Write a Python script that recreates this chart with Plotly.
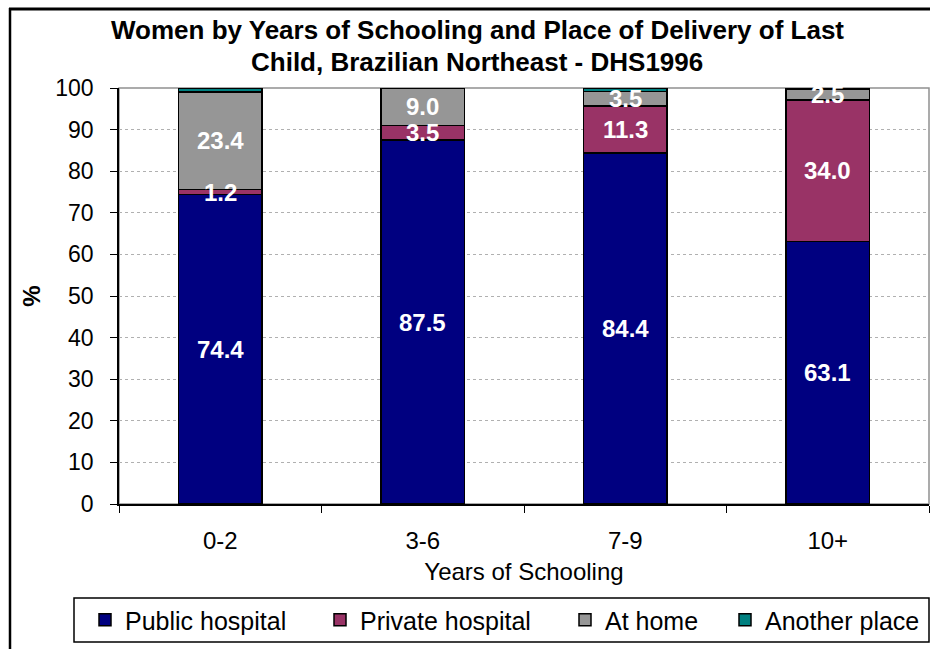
import plotly.graph_objects as go

categories = ["0-2", "3-6", "7-9", "10+"]
public_hospital = [74.4, 87.5, 84.4, 63.1]
private_hospital = [1.2, 3.5, 11.3, 34.0]
at_home = [23.4, 9.0, 3.5, 2.5]
another_place = [1.0, 0.0, 0.8, 0.4]

series = [
    ("Public hospital", public_hospital, "#000080", True),
    ("Private hospital", private_hospital, "#993366", True),
    ("At home", at_home, "#969696", True),
    ("Another place", another_place, "#008080", False),
]

FONT = "Liberation Sans, Arial, sans-serif"
W, H = 930, 649
L, R, T, B = 119, 1, 88, 145
pw, ph = W - L - R, H - T - B

def px_x(p):
    return (p - L) / pw

def px_y(p):
    return (H - B - p) / ph

legend_centers = [105, 340, 585, 745]
legend_names = ["legend", "legend2", "legend3", "legend4"]

fig = go.Figure()
base = [0.0] * len(categories)
annotations = []
for k, (name, vals, color, labelled) in enumerate(series):
    fig.add_trace(go.Bar(
        name=name, x=categories, y=vals, marker_color=color,
        marker_line_color="black", marker_line_width=1.5,
        legend=legend_names[k],
    ))
    if labelled:
        for i, v in enumerate(vals):
            annotations.append(dict(
                x=categories[i], y=base[i] + v / 2, xref="x", yref="y",
                text=f"{v:.1f}", showarrow=False,
                font=dict(family=FONT, size=24, color="white", weight="bold"),
            ))
    base = [b + v for b, v in zip(base, vals)]

annotations += [
    dict(text="Women by Years of Schooling and Place of Delivery of Last",
         x=px_x(477), y=px_y(30), xref="paper", yref="paper", showarrow=False,
         xanchor="center", yanchor="middle",
         font=dict(family=FONT, size=26, color="black", weight="bold")),
    dict(text="Child, Brazilian Northeast - DHS1996",
         x=px_x(477), y=px_y(62), xref="paper", yref="paper", showarrow=False,
         xanchor="center", yanchor="middle",
         font=dict(family=FONT, size=26, color="black", weight="bold")),
]

legend_layouts = {}
for k, ln in enumerate(legend_names):
    legend_layouts[ln] = dict(
        orientation="h", x=px_x(legend_centers[k] - 20), xanchor="left",
        y=px_y(620), yanchor="middle", borderwidth=0,
        bgcolor="rgba(0,0,0,0)", font=dict(size=25),
    )

fig.update_layout(
    barmode="stack",
    bargap=0.59,
    width=W, height=H,
    margin=dict(l=L, r=R, t=T, b=B, autoexpand=False),
    paper_bgcolor="white", plot_bgcolor="white",
    font=dict(family=FONT, size=23, color="black"),
    annotations=annotations,
    showlegend=True,
    shapes=[
        dict(type="line", xref="paper", yref="paper",
             x0=px_x(9), x1=px_x(940), y0=px_y(9), y1=px_y(9),
             line=dict(color="black", width=3), layer="above"),
        dict(type="line", xref="paper", yref="paper",
             x0=px_x(10), x1=px_x(10), y0=px_y(660), y1=px_y(8),
             line=dict(color="black", width=2.5), layer="above"),
        dict(type="rect", xref="paper", yref="paper",
             x0=0, x1=1, y0=0, y1=1,
             line=dict(color="#909090", width=1.5), layer="below"),
        dict(type="rect", xref="paper", yref="paper",
             x0=px_x(74), x1=px_x(929), y0=px_y(642), y1=px_y(598),
             line=dict(color="black", width=1.5), layer="below"),
    ],
    **legend_layouts,
)
fig.update_xaxes(
    showline=True, linecolor="black", linewidth=1.5,
    ticks="outside", tickson="boundaries", ticklen=7, tickcolor="black",
    ticklabelstandoff=14,
    title=dict(text="Years of Schooling", font=dict(size=24), standoff=11),
    tickfont=dict(size=24),
)
fig.update_yaxes(
    range=[0, 100], dtick=10, showline=True, linecolor="black", linewidth=1.5,
    ticks="outside", ticklen=7, tickcolor="black",
    ticklabelstandoff=12,
    showgrid=True, gridcolor="#b0b0b0", griddash="dot", gridwidth=1,
    title=dict(text="%", font=dict(size=24, weight="bold"), standoff=8),
    tickfont=dict(size=23), zeroline=False,
)
fig.write_html(
    "out.html",
    config={"displayModeBar": False},
    post_script="document.body.style.margin='0';document.body.style.overflow='hidden';",
)
